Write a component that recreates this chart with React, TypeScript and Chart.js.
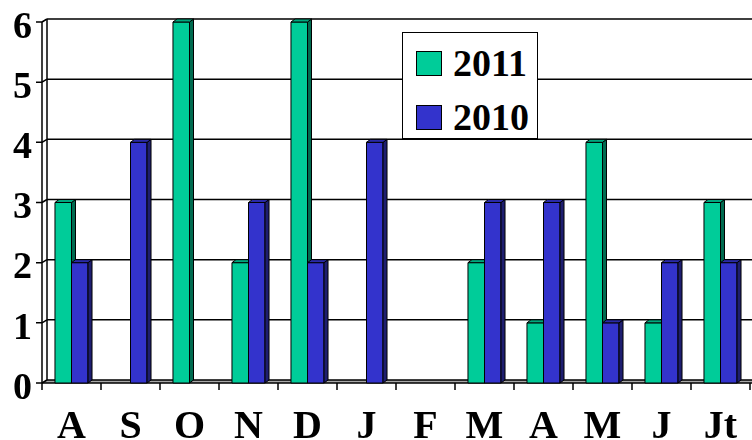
import React, { useEffect, useRef } from "react";
import { Chart, registerables } from "chart.js";

Chart.register(...registerables);

const categories = ["A", "S", "O", "N", "D", "J", "F", "M", "A", "M", "J", "Jt"];
const values2011 = [3, 0, 6, 2, 6, 0, 0, 2, 1, 4, 1, 3];
const values2010 = [2, 4, 0, 3, 2, 4, 0, 3, 3, 1, 2, 2];
const seriesNames = ["2011", "2010"];
const yMin = 0;
const yMax = 6;

const FRONT = ["#00CC99", "#3333CC"];
const SIDE = ["#006B50", "#1E1E70"];
const TOP = ["#00A87E", "#2A2AA8"];

const BDX = 4; // bar depth
const BDY = 3;
const WDX = 5; // wall depth
const WDY = 3;

const FONT_FAMILY = '"Liberation Serif", "Times New Roman", serif';

const threeD = {
  id: "threeD",
  beforeDatasetsDraw(chart: any) {
    const { ctx, chartArea, scales } = chart;
    const { left, top, bottom } = chartArea;
    const y = scales.y;
    const x = scales.x;
    const W = chart.width;
    ctx.save();
    // floor
    ctx.fillStyle = "#a8a8a8";
    ctx.beginPath();
    ctx.moveTo(left, bottom);
    ctx.lineTo(left + WDX, bottom - WDY);
    ctx.lineTo(W, bottom - WDY);
    ctx.lineTo(W, bottom);
    ctx.closePath();
    ctx.fill();

    ctx.strokeStyle = "#000";
    ctx.lineWidth = 1.5;
    // gridlines on back wall + tick connectors
    y.ticks.forEach((t: any) => {
      const yf = y.getPixelForValue(t.value);
      const yb = yf - WDY;
      ctx.beginPath();
      ctx.moveTo(left + WDX, yb);
      ctx.lineTo(W, yb);
      ctx.moveTo(left, yf);
      ctx.lineTo(left + WDX, yb);
      ctx.moveTo(left - 6, yf);
      ctx.lineTo(left, yf);
      ctx.stroke();
    });
    // walls
    ctx.beginPath();
    ctx.moveTo(left, top);
    ctx.lineTo(left, bottom);
    ctx.moveTo(left + WDX, top - WDY);
    ctx.lineTo(left + WDX, bottom - WDY);
    ctx.moveTo(left, bottom);
    ctx.lineTo(W, bottom);
    ctx.stroke();
    // x ticks at category boundaries
    const step = x.getPixelForValue(1) - x.getPixelForValue(0);
    ctx.beginPath();
    for (let i = 0; i <= categories.length; i++) {
      const bx = x.getPixelForValue(i) - step / 2;
      ctx.moveTo(bx, bottom);
      ctx.lineTo(bx, bottom + 7);
    }
    ctx.stroke();
    ctx.restore();
  },
  afterDatasetsDraw(chart: any) {
    const { ctx } = chart;
    ctx.save();
    ctx.strokeStyle = "#000";
    ctx.lineWidth = 1;
    ctx.lineJoin = "round";
    for (let i = 0; i < categories.length; i++) {
      for (let d = 0; d < 2; d++) {
        const meta = chart.getDatasetMeta(d);
        const el = meta.data[i];
        if (!el) continue;
        const { x, y, width, base } = el.getProps(["x", "y", "width", "base"], true);
        const h = base - y;
        if (h < 0.5) continue;
        const x1 = x - width / 2;
        const x2 = x + width / 2;
        // front
        ctx.fillStyle = FRONT[d];
        ctx.fillRect(x1, y, width, h);
        ctx.strokeRect(x1, y, width, h);
        // side
        ctx.fillStyle = SIDE[d];
        ctx.beginPath();
        ctx.moveTo(x2, y);
        ctx.lineTo(x2 + BDX, y - BDY);
        ctx.lineTo(x2 + BDX, base - BDY);
        ctx.lineTo(x2, base);
        ctx.closePath();
        ctx.fill();
        ctx.stroke();
        // top
        ctx.fillStyle = TOP[d];
        ctx.beginPath();
        ctx.moveTo(x1, y);
        ctx.lineTo(x1 + BDX, y - BDY);
        ctx.lineTo(x2 + BDX, y - BDY);
        ctx.lineTo(x2, y);
        ctx.closePath();
        ctx.fill();
        ctx.stroke();
      }
    }
    ctx.restore();
  },
};

export default function App() {
  const canvasRef = useRef<HTMLCanvasElement | null>(null);

  useEffect(() => {
    document.body.style.margin = "0";
    const canvas = canvasRef.current;
    if (!canvas) return;
    const chart = new Chart(canvas, {
      type: "bar",
      data: {
        labels: categories,
        datasets: [
          {
            label: seriesNames[0],
            data: values2011,
            backgroundColor: "rgba(0,0,0,0)",
            borderWidth: 0,
          },
          {
            label: seriesNames[1],
            data: values2010,
            backgroundColor: "rgba(0,0,0,0)",
            borderWidth: 0,
          },
        ],
      },
      options: {
        animation: false,
        responsive: true,
        maintainAspectRatio: false,
        layout: { padding: { top: 22, right: 2, left: 0, bottom: 0 } },
        plugins: {
          legend: { display: false },
          tooltip: { enabled: false },
        },
        datasets: {
          bar: { categoryPercentage: 0.56, barPercentage: 1 },
        },
        scales: {
          x: {
            grid: { display: false, drawTicks: false },
            border: { display: false },
            ticks: {
              color: "#000",
              font: { family: FONT_FAMILY, size: 40, weight: "bold" },
              padding: 21,
              autoSkip: false,
              maxRotation: 0,
            },
            afterFit: (s: any) => {
              s.height = 57;
              s.paddingLeft = 0;
              s.paddingRight = 0;
            },
          },
          y: {
            min: yMin,
            max: yMax,
            grid: { display: false, drawTicks: false },
            border: { display: false },
            ticks: {
              stepSize: 1,
              color: "#000",
              font: { family: FONT_FAMILY, size: 38, weight: "bold" },
              padding: 10,
              labelOffset: 6,
            },
            afterFit: (s: any) => {
              s.width = 42;
              s.paddingTop = 0;
              s.paddingBottom = 0;
            },
          },
        },
      },
      plugins: [threeD],
    });
    return () => chart.destroy();
  }, []);

  const legendItem = (i: number, top: number) => (
    <div
      style={{
        position: "absolute",
        left: 13,
        top,
        display: "flex",
        alignItems: "center",
        height: 26,
      }}
    >
      <div
        style={{
          width: 24,
          height: 23,
          background: FRONT[i],
          border: "1px solid #000",
          marginRight: 11,
        }}
      />
      <span
        style={{
          fontFamily: FONT_FAMILY,
          fontWeight: "bold",
          fontSize: 38,
          color: "#000",
          lineHeight: "26px",
        }}
      >
        {seriesNames[i]}
      </span>
    </div>
  );

  return (
    <div style={{ position: "relative", width: 752, height: 440, background: "#fff" }}>
      <canvas ref={canvasRef} />
      <div
        style={{
          position: "absolute",
          left: 402,
          top: 32,
          width: 134,
          height: 105,
          background: "#fff",
          border: "1.5px solid #000",
          boxSizing: "content-box",
        }}
      >
        {legendItem(0, 17)}
        {legendItem(1, 71)}
      </div>
    </div>
  );
}
